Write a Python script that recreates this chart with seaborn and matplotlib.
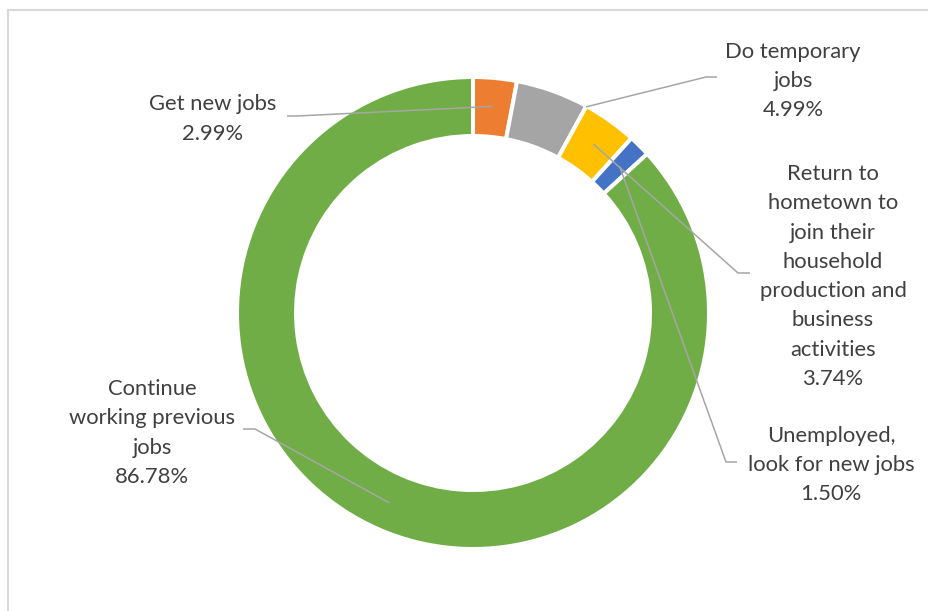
import matplotlib
matplotlib.use("Agg")
import matplotlib.pyplot as plt
from matplotlib.patches import Rectangle
import seaborn as sns
import numpy as np

# ---- data ----
categories = [
    "Get new jobs",
    "Do temporary\njobs",
    "Return to\nhometown to\njoin their\nhousehold\nproduction and\nbusiness\nactivities",
    "Unemployed,\nlook for new jobs",
    "Continue\nworking previous\njobs",
]
values = [2.99, 4.99, 3.74, 1.50, 86.78]
colors = ["#ED7D31", "#A5A5A5", "#FFC000", "#4472C4", "#70AD47"]

# ---- layout (pixel coords, origin top-left) ----
W, H = 929, 611
label_xy = [(213, 119), (793, 81), (833, 276.5), (831, 465), (152, 433)]
leader_elbows = [
    [(287, 116), (297, 116)],
    [(717, 77), (706, 77)],
    [(750, 273), (738, 273)],
    [(737, 462), (726, 462)],
    [(243, 429), (255, 429)],
]
anchor_kind = ["mid", "edge", "mid", "mid", "mid"]

sns.set_theme(style="white")
plt.rcParams['font.family'] = ['Lato', 'DejaVu Sans']

fig = plt.figure(figsize=(W / 100, H / 100), dpi=100)
ax = fig.add_axes([0, 0, 1, 1])

cx, cy = 473, H - 313
R, width = 236, 59
wedges, _ = ax.pie(values, colors=colors, startangle=90, counterclock=False,
                   radius=R, center=(cx, cy),
                   wedgeprops=dict(width=width, edgecolor="white", linewidth=2.9))

ax.set_xlim(0, W)
ax.set_ylim(0, H)
ax.set_aspect("equal")
ax.axis("off")

# chart frame
ax.add_patch(Rectangle((8, -60), W + 100, H - 10 + 60, fill=False,
                       edgecolor="#d9d9d9", linewidth=1.5, zorder=0))

rmid = R - width / 2 + 1
for i, w in enumerate(wedges):
    t1, t2 = w.theta1, w.theta2
    if anchor_kind[i] == "edge":
        ang, rr = np.deg2rad(min(t1, t2)), R - 1
    else:
        ang, rr = np.deg2rad((t1 + t2) / 2), rmid
    ax_ = cx + rr * np.cos(ang)
    ay_ = cy + rr * np.sin(ang)
    pts = [(x, H - y) for x, y in leader_elbows[i]] + [(ax_, ay_)]
    xs, ys = zip(*pts)
    ax.plot(xs, ys, color="#A6A6A6", linewidth=1.1, zorder=5,
            solid_capstyle="butt")
    lx, ly = label_xy[i]
    ax.text(lx, H - ly, f"{categories[i]}\n{values[i]:.2f}%", ha="center",
            va="center", multialignment="center", fontsize=15.8,
            color="#404040", linespacing=1.58)

fig.savefig("out.png", dpi=100)
